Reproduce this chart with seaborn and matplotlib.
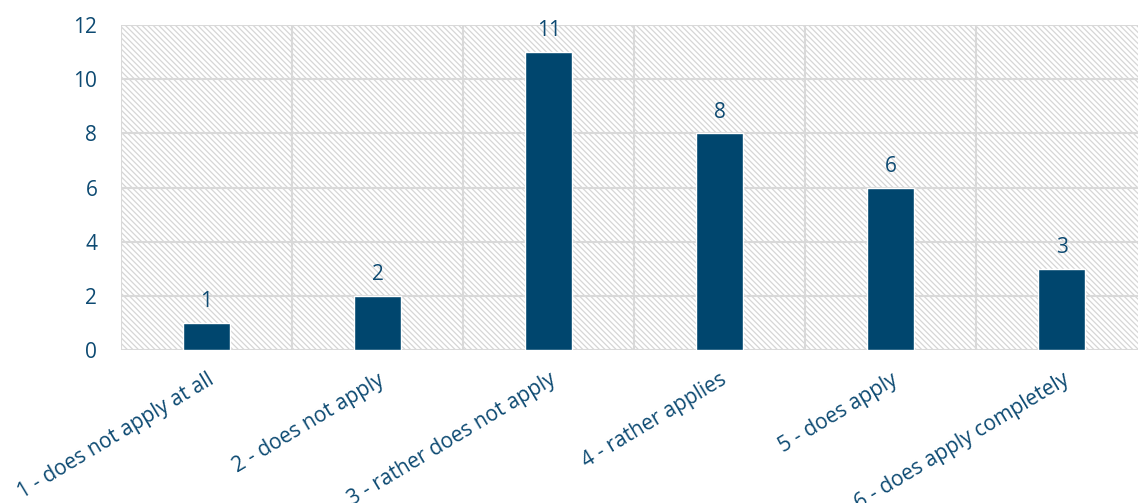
import matplotlib
matplotlib.use("Agg")
import matplotlib.pyplot as plt
import seaborn as sns
import pandas as pd
from matplotlib.patches import Rectangle

categories = [
    "1 - does not apply at all",
    "2 - does not apply",
    "3 - rather does not apply",
    "4 - rather applies",
    "5 - does apply",
    "6 - does apply completely",
]
counts = [1, 2, 11, 8, 6, 3]
y_ticks = [0, 2, 4, 6, 8, 10, 12]

bar_color = "#00466e"
text_color = "#0d4a72"
grid_color = "#d9d9d9"

sns.set_theme(style="white")
plt.rcParams["font.family"] = ["Open Sans", "DejaVu Sans"]
plt.rcParams["hatch.linewidth"] = 0.9
plt.rcParams["hatch.color"] = "#d6d6d6"

df = pd.DataFrame({"category": categories, "count": counts})

fig = plt.figure(figsize=(11.38, 5.03), dpi=100)
ax = fig.add_axes([0.1063, 0.304, 0.902, 0.646])

# hatched plot background
ax.add_patch(Rectangle((0, 0), 1, 1, transform=ax.transAxes, facecolor="white",
                       hatch="\\\\\\\\\\\\", edgecolor="#d6d6d6", linewidth=0, zorder=0))

sns.barplot(data=df, x="category", y="count", color=bar_color, width=0.275,
            saturation=1, ax=ax, zorder=3)

ax.set_ylim(0, 12)
ax.set_xlim(-0.5, len(categories) - 0.5)
ax.set_yticks(y_ticks)
ax.set_yticklabels([str(t) for t in y_ticks], fontsize=15, color=text_color)

# grid: horizontal at ticks, vertical at category boundaries
for t in y_ticks:
    ax.axhline(t, color=grid_color, lw=1.5, zorder=1)
for b in range(len(categories) + 1):
    ax.axvline(b - 0.5, color=grid_color, lw=1.5, zorder=1)

ax.set_xticks(range(len(categories)))
ax.set_xticklabels(categories, rotation=31, ha="right", rotation_mode="anchor",
                   fontsize=15, color=text_color)
ax.tick_params(axis="both", length=0)
ax.tick_params(axis="x", pad=14)
ax.tick_params(axis="y", pad=17)
ax.set_xlabel("")
ax.set_ylabel("")
for s in ax.spines.values():
    s.set_visible(False)

for i, v in enumerate(counts):
    ax.text(i, v + 0.4, str(v), ha="center", va="bottom", fontsize=15,
            color=text_color, zorder=4)

fig.savefig("out.png", dpi=100)
